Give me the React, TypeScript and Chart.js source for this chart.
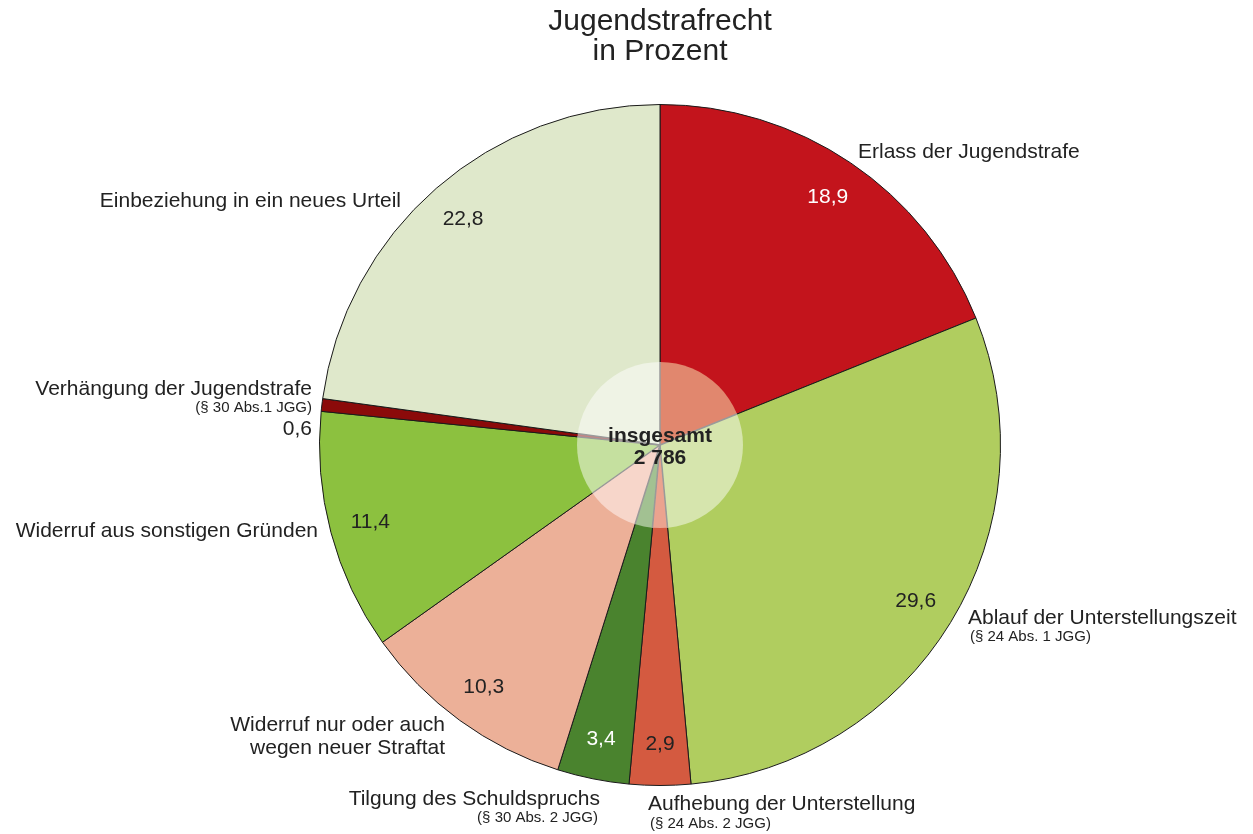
import React, { useEffect, useRef } from "react";
import { Chart, registerables } from "chart.js";

Chart.register(...registerables);

const categories = [
  "Erlass der Jugendstrafe",
  "Ablauf der Unterstellungszeit",
  "Aufhebung der Unterstellung",
  "Tilgung des Schuldspruchs",
  "Widerruf nur oder auch wegen neuer Straftat",
  "Widerruf aus sonstigen Gründen",
  "Verhängung der Jugendstrafe",
  "Einbeziehung in ein neues Urteil",
];
const values = [18.9, 29.6, 2.9, 3.4, 10.3, 11.4, 0.6, 22.8];
const valueLabels = ["18,9", "29,6", "2,9", "3,4", "10,3", "11,4", "0,6", "22,8"];
const colors = ["#c3141c", "#b0cd5f", "#d45a40", "#4a832e", "#ecb098", "#8cc13f", "#8b0a0a", "#dfe8cb"];
const innerColors = ["#e1876e", "#d6e5ad", "#eba38f", "#a2c192", "#f7d6ca", "#c5e09f", "#c58585", "#eff3e5"];
const valueColors = ["#ffffff", "#222222", "#222222", "#ffffff", "#222222", "#222222", "#222222", "#222222"];
const titleLines = ["Jugendstrafrecht", "in Prozent"];
const centerLines = ["insgesamt", "2 786"];

const outsideLabels: { lines: string[]; sizes: number[]; ys: number[]; x: number; align: CanvasTextAlign; dx?: number[] }[] = [
  { lines: ["Erlass der Jugendstrafe"], sizes: [21], ys: [152], x: 858, align: "left" },
  { lines: ["Ablauf der Unterstellungszeit", "(§ 24 Abs. 1 JGG)"], sizes: [21, 15], ys: [618, 637], x: 968, align: "left", dx: [0, 2] },
  { lines: ["Aufhebung der Unterstellung", "(§ 24 Abs. 2 JGG)"], sizes: [21, 15], ys: [804, 824], x: 648, align: "left", dx: [0, 2] },
  { lines: ["Tilgung des Schuldspruchs", "(§ 30 Abs. 2 JGG)"], sizes: [21, 15], ys: [799, 818], x: 600, align: "right", dx: [0, -2] },
  { lines: ["Widerruf nur oder auch", "wegen neuer Straftat"], sizes: [21, 21], ys: [725, 748], x: 445, align: "right" },
  { lines: ["Widerruf aus sonstigen Gründen"], sizes: [21], ys: [531], x: 318, align: "right" },
  { lines: ["Verhängung der Jugendstrafe", "(§ 30 Abs.1 JGG)", "0,6"], sizes: [21, 15, 21], ys: [389, 408, 429], x: 312, align: "right" },
  { lines: ["Einbeziehung in ein neues Urteil"], sizes: [21], ys: [201], x: 401, align: "right" },
];

const FONT = "'Liberation Sans', Arial, Helvetica, sans-serif";
const CENTER_R = 83;

const overlayPlugin = {
  id: "overlayPlugin",
  afterDatasetsDraw(chart: any) {
    const ctx: CanvasRenderingContext2D = chart.ctx;
    const meta = chart.getDatasetMeta(0);
    const a0 = meta.data[0];
    const cx = a0.x;
    const cy = a0.y;
    ctx.save();
    // value labels
    ctx.textAlign = "center";
    ctx.textBaseline = "middle";
    ctx.font = `21px ${FONT}`;
    meta.data.forEach((arc: any, i: number) => {
      if (i === 6) return;
      const mid = (arc.startAngle + arc.endAngle) / 2;
      const r = arc.outerRadius * 0.88;
      ctx.fillStyle = valueColors[i];
      ctx.fillText(valueLabels[i], cx + Math.cos(mid) * r, cy + Math.sin(mid) * r);
    });
    // center circle: lighter sectors
    ctx.save();
    ctx.beginPath();
    ctx.arc(cx, cy, CENTER_R, 0, Math.PI * 2);
    ctx.clip();
    meta.data.forEach((arc: any, i: number) => {
      ctx.beginPath();
      ctx.moveTo(cx, cy);
      ctx.arc(cx, cy, CENTER_R + 2, arc.startAngle, arc.endAngle);
      ctx.closePath();
      ctx.fillStyle = innerColors[i];
      ctx.fill();
    });
    ctx.strokeStyle = "#9a9a9a";
    ctx.lineWidth = 1.5;
    meta.data.forEach((arc: any) => {
      ctx.beginPath();
      ctx.moveTo(cx, cy);
      ctx.lineTo(cx + Math.cos(arc.startAngle) * (CENTER_R + 2), cy + Math.sin(arc.startAngle) * (CENTER_R + 2));
      ctx.stroke();
    });
    ctx.restore();
    ctx.fillStyle = "#222222";
    ctx.textAlign = "center";
    ctx.font = `bold 21px ${FONT}`;
    ctx.fillText(centerLines[0], cx, cy - 9);
    ctx.fillText(centerLines[1], cx, cy + 13);
    // title
    ctx.font = `30px ${FONT}`;
    ctx.fillText(titleLines[0], cx, 22);
    ctx.fillText(titleLines[1], cx, 52);
    // outside labels
    outsideLabels.forEach((l) => {
      ctx.textAlign = l.align;
      l.lines.forEach((line, j) => {
        ctx.font = `${l.sizes[j]}px ${FONT}`;
        ctx.fillText(line, l.x + (l.dx ? l.dx[j] : 0), l.ys[j]);
      });
    });
    ctx.restore();
  },
};

export default function App() {
  const ref = useRef<HTMLCanvasElement | null>(null);
  useEffect(() => {
    document.body.style.margin = "0";
    const chart = new Chart(ref.current as HTMLCanvasElement, {
      type: "pie",
      data: {
        labels: categories,
        datasets: [
          {
            data: values,
            backgroundColor: colors,
            borderColor: "#1a1a1a",
            borderWidth: 1,
          },
        ],
      },
      options: {
        responsive: false,
        animation: false,
        layout: { padding: { left: 319, right: 252, top: 104, bottom: 48 } },
        plugins: {
          legend: { display: false },
          tooltip: { enabled: false },
          title: { display: false },
        },
      },
      plugins: [overlayPlugin],
    });
    return () => chart.destroy();
  }, []);
  return (
    <div style={{ position: "absolute", left: 0, top: 0, width: 1253, height: 834, background: "#fff" }}>
      <canvas ref={ref} width={1253} height={834} />
    </div>
  );
}
